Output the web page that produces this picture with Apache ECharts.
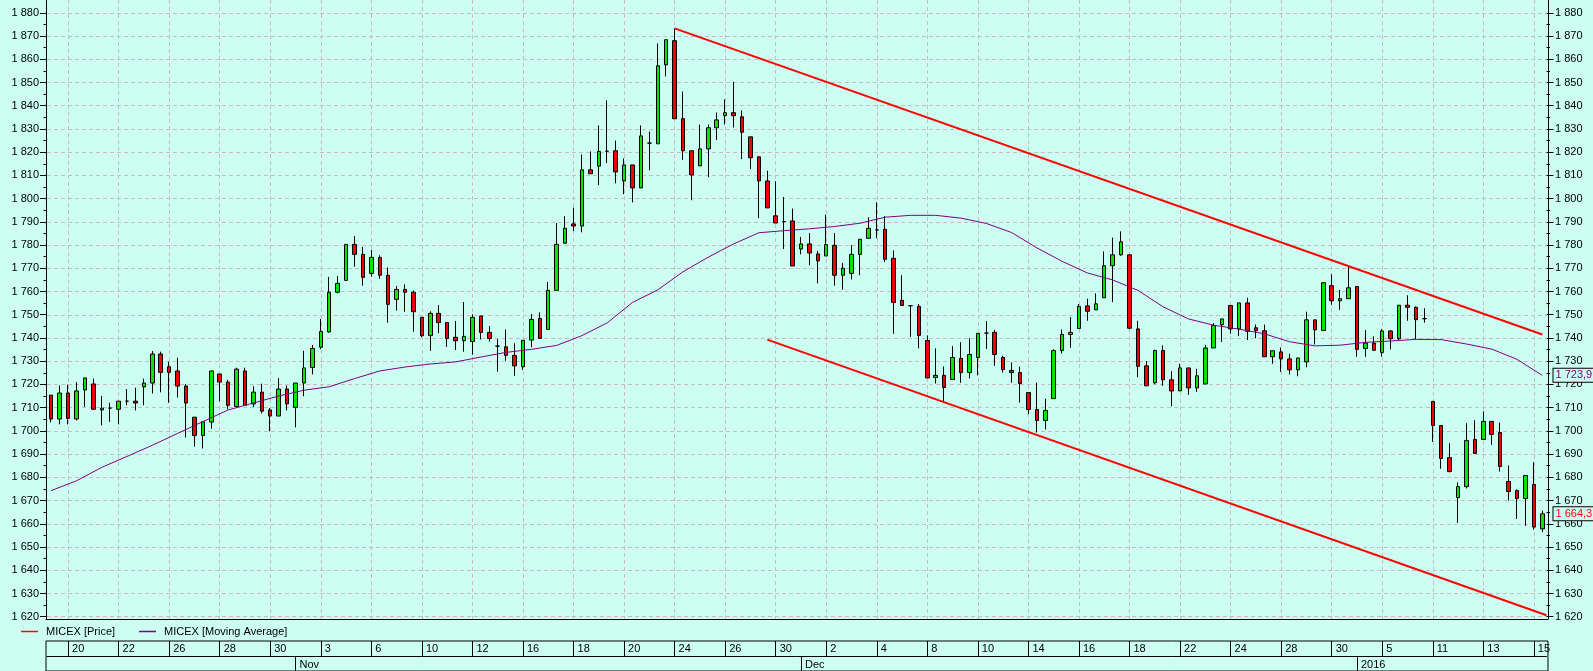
<!DOCTYPE html>
<html>
<head>
<meta charset="utf-8">
<script src="https://cdn.jsdelivr.net/npm/echarts@6/dist/echarts.min.js"></script>
<style>
html,body{margin:0;padding:0;background:#ccfff2;}
#chart{width:1593px;height:671px;}
</style>
</head>
<body>
<div id="chart"></div>
<script>
// ---------------- DATA ----------------
const tradingDays = [
  '2015-10-19','2015-10-20','2015-10-21','2015-10-22','2015-10-23','2015-10-26','2015-10-27','2015-10-28','2015-10-29','2015-10-30',
  '2015-11-02','2015-11-03','2015-11-05','2015-11-06','2015-11-09','2015-11-10','2015-11-11','2015-11-12','2015-11-13','2015-11-16',
  '2015-11-17','2015-11-18','2015-11-19','2015-11-20','2015-11-23','2015-11-24','2015-11-25','2015-11-26','2015-11-27','2015-11-30',
  '2015-12-01','2015-12-02','2015-12-03','2015-12-04','2015-12-07','2015-12-08','2015-12-09','2015-12-10','2015-12-11','2015-12-14',
  '2015-12-15','2015-12-16','2015-12-17','2015-12-18','2015-12-21','2015-12-22','2015-12-23','2015-12-24','2015-12-25','2015-12-28',
  '2015-12-29','2015-12-30','2016-01-04','2016-01-05','2016-01-06','2016-01-11','2016-01-12','2016-01-13','2016-01-14','2016-01-15'
];
const sessionNames = ['#1', '#2', '#3'];

// [open, close, low, high]
const priceCandles = [
  [1715.4,1705.1,1703.6,1715.4],[1705.1,1716.3,1702.8,1719.6],[1716.3,1705.4,1702.8,1719.9],[1705.1,1717.2,1704.5,1721.0],
  [1717.6,1722.8,1710.3,1722.8],[1720.2,1709.3,1709.3,1722.5],[1709.0,1709.8,1702.4,1715.1],[1709.8,1709.8,1703.9,1712.1],
  [1709.3,1712.8,1702.8,1712.8],[1712.8,1712.8,1711.0,1718.0],[1712.8,1712.0,1708.8,1718.6],[1718.9,1720.6,1711.0,1722.5],
  [1720.6,1733.1,1716.1,1734.4],[1733.1,1725.2,1716.6,1734.1],[1727.6,1725.2,1712.1,1729.8],[1725.8,1719.3,1714.4,1731.5],
  [1719.3,1712.0,1697.2,1720.2],[1705.9,1698.0,1693.2,1705.9],[1698.0,1703.9,1692.4,1703.9],[1703.8,1725.8,1700.9,1725.8],
  [1724.5,1721.0,1712.7,1724.5],[1721.0,1711.0,1709.3,1722.0],[1710.5,1726.6,1710.5,1727.2],[1725.8,1711.0,1711.0,1727.2],
  [1711.6,1716.7,1710.3,1719.2],[1716.7,1708.5,1707.5,1720.3],[1709.0,1706.4,1699.8,1709.8],[1706.4,1718.0,1706.4,1722.8],
  [1718.0,1711.6,1708.8,1719.5],[1710.1,1720.6,1701.5,1720.6],[1720.6,1727.1,1714.9,1734.5],[1727.3,1735.5,1724.3,1737.0],
  [1736.0,1742.8,1735.2,1748.2],[1742.6,1759.7,1742.3,1766.3],[1759.7,1763.5,1759.2,1766.7],[1764.8,1780.3,1764.8,1780.3],
  [1780.3,1776.0,1770.7,1783.9],[1776.0,1766.1,1762.5,1779.2],[1767.8,1774.7,1766.4,1777.9],[1774.7,1767.0,1765.5,1775.6],
  [1767.0,1754.5,1746.6,1770.4],[1756.6,1760.9,1751.8,1762.4],[1760.9,1759.7,1751.3,1763.1],[1759.7,1751.3,1742.7,1760.5],
  [1748.9,1741.0,1740.3,1748.9],[1741.0,1750.6,1734.4,1751.5],[1750.6,1746.6,1742.0,1754.2],[1746.7,1739.8,1736.2,1746.7],
  [1740.3,1738.8,1734.8,1747.3],[1738.8,1740.7,1734.1,1755.5],[1738.5,1748.9,1732.8,1750.2],[1749.5,1742.4,1739.3,1749.5],
  [1742.4,1739.8,1738.4,1745.1],[1736.5,1736.5,1725.5,1739.5],[1736.2,1732.5,1730.2,1743.7],[1732.5,1728.0,1723.7,1737.7],
  [1727.6,1739.0,1726.2,1739.0],[1739.1,1748.0,1736.0,1750.3],[1748.4,1739.8,1739.8,1751.0],[1743.7,1760.5,1743.7,1764.1],
  [1760.5,1780.3,1760.5,1789.5],[1780.8,1787.2,1780.8,1792.4],[1789.1,1788.2,1786.0,1796.1],[1788.2,1812.4,1785.5,1819.0],
  [1812.4,1810.7,1810.7,1820.3],[1814.0,1820.3,1805.8,1831.5],[1820.4,1820.4,1815.3,1842.3],[1820.6,1811.5,1806.6,1825.0],
  [1807.6,1814.5,1801.9,1817.3],[1814.5,1804.6,1798.4,1814.5],[1804.6,1827.0,1804.6,1831.5],[1823.9,1823.9,1812.2,1828.9],
  [1823.6,1857.2,1823.6,1866.8],[1857.6,1868.4,1852.6,1868.4],[1868.0,1834.4,1834.4,1873.3],[1834.4,1820.6,1816.6,1846.1],
  [1820.6,1810.2,1799.3,1820.6],[1814.1,1821.4,1814.1,1831.9],[1821.4,1830.5,1809.2,1831.9],[1830.5,1833.9,1825.2,1837.1],
  [1835.7,1837.0,1831.9,1842.7],[1837.0,1835.7,1830.6,1850.3],[1835.2,1828.6,1817.0,1838.0],[1826.6,1817.6,1812.7,1826.6],
  [1818.0,1807.6,1791.6,1818.0],[1807.6,1796.0,1796.0,1812.0],[1792.6,1789.5,1789.5,1807.5],[1790.1,1790.1,1778.3,1800.7],
  [1790.4,1771.0,1771.0,1795.7],[1778.3,1780.5,1776.0,1783.5],[1780.5,1776.6,1771.3,1785.2],[1776.2,1773.2,1763.5,1777.5],
  [1775.3,1780.2,1775.3,1793.1],[1779.9,1767.0,1762.5,1785.2],[1767.0,1770.0,1760.8,1772.3],[1767.8,1776.0,1765.2,1779.9],
  [1776.0,1782.5,1767.0,1782.5],[1782.9,1787.2,1782.9,1792.0],[1786.5,1786.5,1782.9,1798.4],[1786.8,1773.9,1772.7,1792.5],
  [1774.3,1755.3,1741.8,1777.7],[1756.2,1754.0,1754.0,1767.0],[1753.9,1753.9,1740.5,1754.2],[1753.6,1741.1,1735.5,1754.6],
  [1738.9,1722.8,1722.8,1741.1],[1723.0,1723.9,1720.4,1735.5],[1723.9,1718.7,1712.9,1727.7],[1722.1,1731.6,1722.1,1736.5],
  [1731.2,1725.1,1720.7,1738.2],[1725.1,1732.9,1722.6,1739.9],[1731.6,1742.0,1723.9,1742.0],[1742.1,1742.1,1735.3,1747.3],
  [1742.4,1732.9,1728.0,1743.5],[1731.6,1726.4,1725.1,1732.3],[1726.0,1725.1,1720.7,1729.5],[1725.1,1720.4,1712.2,1727.7],
  [1716.5,1709.2,1707.2,1716.5],[1709.2,1704.5,1699.3,1720.8],[1704.5,1708.8,1700.6,1713.9],[1713.9,1734.6,1713.9,1735.1],
  [1734.6,1741.5,1733.3,1743.7],[1741.5,1742.4,1735.8,1749.0],[1744.1,1753.6,1744.1,1754.6],[1753.8,1751.5,1747.4,1756.9],
  [1752.1,1754.7,1752.1,1759.2],[1757.3,1771.1,1757.3,1777.3],[1771.1,1775.8,1755.4,1783.2],[1775.8,1781.4,1775.4,1785.9],
  [1775.8,1744.2,1743.8,1775.8],[1743.9,1727.8,1723.1,1747.4],[1728.0,1719.4,1719.4,1730.0],[1720.7,1734.6,1720.1,1735.0],
  [1734.6,1722.0,1719.4,1736.8],[1722.0,1717.2,1710.6,1725.7],[1717.2,1727.1,1717.2,1728.9],[1727.1,1718.5,1715.5,1727.1],
  [1718.5,1723.7,1716.8,1726.7],[1720.2,1735.7,1720.2,1737.0],[1735.7,1745.4,1735.7,1746.4],[1745.7,1748.2,1738.3,1748.2],
  [1754.0,1743.9,1741.8,1754.0],[1743.9,1755.1,1740.8,1755.1],[1755.1,1742.9,1739.1,1757.3],[1744.4,1743.1,1739.9,1745.8],
  [1743.1,1731.9,1731.9,1745.8],[1731.9,1734.5,1728.9,1734.5],[1734.0,1731.0,1725.4,1735.9],[1731.0,1726.3,1724.3,1733.2],
  [1726.3,1731.4,1723.5,1731.4],[1729.7,1747.8,1727.4,1751.3],[1747.8,1743.5,1737.2,1747.8],[1743.2,1763.8,1743.2,1763.8],
  [1762.5,1756.0,1754.3,1767.4],[1756.0,1756.9,1752.1,1760.7],[1756.9,1761.6,1756.9,1771.1],[1762.2,1735.1,1731.9,1762.2],
  [1735.5,1737.8,1731.9,1743.4],[1737.8,1734.7,1734.7,1740.7],[1733.8,1743.0,1731.9,1743.9],[1743.0,1739.7,1735.1,1743.4],
  [1739.7,1754.1,1739.1,1754.1],[1754.1,1753.2,1747.4,1758.4],[1753.2,1747.9,1739.4,1753.6],[1748.3,1748.3,1746.6,1752.8],
  [1712.7,1702.3,1695.3,1712.7],[1702.3,1688.1,1683.7,1702.3],[1688.5,1682.5,1682.1,1694.7],[1671.3,1676.0,1660.4,1677.8],
  [1676.0,1695.9,1675.2,1703.3],[1696.3,1690.3,1690.3,1704.6],[1696.3,1704.1,1696.3,1708.4],[1704.1,1698.5,1694.0,1704.1],
  [1699.3,1684.7,1682.5,1703.6],[1678.2,1673.9,1670.0,1685.1],[1674.3,1670.9,1662.1,1674.8],[1670.9,1680.8,1659.1,1680.8],
  [1676.9,1658.6,1657.5,1686.5],[1657.8,1664.3,1656.4,1665.7]
];

// Moving average (candle index -> value)
const maIndex = [0,3,6,9,12,15,18,21,24,27,30,33,36,39,42,45,48,51,54,57,60,63,66,69,72,75,78,81,84,87,
                 90,93,96,99,102,105,108,111,114,117,120,123,126,129,132,135,138,141,144,147,150,153,156,159,162,165,168,171,174,177];
const maValues = [1674.3,1678.5,1684.3,1689.0,1693.8,1698.9,1704.0,1709.0,1712.0,1715.0,1717.5,1719.0,1722.5,1725.8,1727.5,
                  1728.8,1729.7,1731.8,1733.8,1735.1,1736.8,1741.0,1746.5,1755.3,1760.7,1768.5,1774.8,1780.5,1785.3,1786.2,
                  1787.0,1788.0,1789.4,1792.0,1792.8,1792.8,1791.6,1789.3,1785.4,1778.8,1773.0,1768.0,1765.0,1760.5,1753.4,
                  1748.2,1745.5,1743.8,1741.8,1738.4,1736.6,1736.9,1738.1,1738.7,1739.4,1739.3,1737.4,1735.2,1730.8,1723.9];

// Trend channel lines (candle index -> value)
const upperTrendX = [74, 177];
const upperTrendY = [1873.3, 1741.5];
const lowerTrendX = [85, 177.5];
const lowerTrendY = [1739.3, 1620.6];

// Tick labels
const dayTickLabels = ['20','22','26','28','30','3','6','10','12','16','18','20','24','26','30',
                       '2','4','8','10','14','16','18','22','24','28','30','5','11','13','15'];
const monthTickLabels = ['Nov','Dec','2016'];
const legendNames = ['MICEX [Price]', 'MICEX [Moving Average]'];

// ---------------- BUILD ----------------
const categories = [];
tradingDays.forEach(d => sessionNames.forEach(s => categories.push(d + ' ' + s)));
categories.splice(0, 1);
categories.length = priceCandles.length;

const dayTickIdx = dayTickLabels.map((_, k) => 2 + 6 * k);
const monthTickIdx = [];
for (let i = 1; i < categories.length; i++) {
  if (categories[i].slice(0, 7) !== categories[i - 1].slice(0, 7)) monthTickIdx.push(i);
}
const isDayTick = i => dayTickIdx.indexOf(i) >= 0;
const isMonthTick = i => monthTickIdx.indexOf(i) >= 0;

const FONT = "'Liberation Sans', Arial, sans-serif";
const BG = '#ccfff2';
const GRID_COLOR = '#c6bcc0';
const GREEN = '#00e600';
const RED = '#f00000';
const PURPLE = '#800080';

const fmtInt = v => String(Math.round(v)).replace(/\B(?=(\d{3})+(?!\d))/g, ' ');
const fmtDec = v => { const p = v.toFixed(1).split('.'); return fmtInt(+p[0]) + ',' + p[1]; };

const maData = maIndex.map((x, k) => [x, maValues[k]]);
const upperData = upperTrendX.map((x, k) => [x, upperTrendY[k]]);
const lowerData = lowerTrendX.map((x, k) => [x, lowerTrendY[k]]);

const lastClose = priceCandles[priceCandles.length - 1][1];
const lastMA = maValues[maValues.length - 1];

const tagLabel = (text, color) => ({
  show: true, position: 'end', distance: 7, formatter: text,
  color: color, fontFamily: FONT, fontSize: 11, lineHeight: 12,
  backgroundColor: BG, borderColor: '#000', borderWidth: 1, padding: [1, 2, 0, 2]
});

const hiddenY = gi => ({ gridIndex: gi, type: 'value', show: false, min: 0, max: 1, axisLine: { onZero: false } });

const option = {
  backgroundColor: BG,
  animation: false,
  textStyle: { fontFamily: FONT, fontSize: 11, color: '#000' },
  legend: {
    data: [
      { name: legendNames[0], icon: 'rect', itemStyle: { color: '#ff0000', borderWidth: 0 } },
      { name: legendNames[1], icon: 'rect', itemStyle: { color: PURPLE, borderWidth: 0 } }
    ],
    left: 21, top: 626, padding: 0,
    itemWidth: 17, itemHeight: 1.5, itemGap: 24,
    selectedMode: false,
    formatter: n => '{t|' + n + '}',
    textStyle: { fontFamily: FONT, fontSize: 11, color: '#000', rich: { t: { padding: [0, 0, 0, 3], fontFamily: FONT, fontSize: 11, color: '#000' } } }
  },
  grid: [
    { left: 47, right: 46.5, top: 12.8, height: 603.9, outerBoundsMode: 'none' },   // 0 data
    { left: 47, right: 46.5, top: 0, height: 619, outerBoundsMode: 'none' },        // 1 vertical grid lines
    { left: 46, right: 45, top: 0, height: 619, outerBoundsMode: 'none' },          // 2 frame
    { left: 46, right: 45, top: 641, height: 30, show: true, borderColor: '#000', borderWidth: 1, backgroundColor: 'transparent', outerBoundsMode: 'none' }, // 3 table
    { left: 47, right: 46.5, top: 641, height: 15, outerBoundsMode: 'none' },       // 4 days
    { left: 47, right: 46.5, top: 656, height: 15, outerBoundsMode: 'none' }        // 5 months
  ],
  xAxis: [
    { gridIndex: 0, type: 'category', data: categories, boundaryGap: true, show: false, axisLine: { onZero: false } },
    { gridIndex: 0, type: 'value', min: -0.5, max: 177.5, show: false, axisLine: { onZero: false } },
    { gridIndex: 1, type: 'category', data: categories, boundaryGap: true,
      axisLine: { show: false, onZero: false }, axisTick: { show: false }, axisLabel: { show: false },
      splitLine: { show: true, interval: (i) => isDayTick(i), alignWithLabel: true, lineStyle: { color: GRID_COLOR, type: [4, 3], width: 1 } } },
    { gridIndex: 2, type: 'value', min: 0, max: 1, position: 'bottom',
      axisLine: { show: true, onZero: false, lineStyle: { color: '#000', width: 1 } }, axisTick: { show: false }, axisLabel: { show: false }, splitLine: { show: false } },
    { gridIndex: 3, type: 'value', min: 0, max: 1, show: false, axisLine: { onZero: false } },
    { gridIndex: 4, type: 'category', data: categories, boundaryGap: true, position: 'top',
      axisLine: { show: false, onZero: false },
      axisTick: { show: true, inside: true, length: 15, alignWithLabel: true, interval: (i) => isDayTick(i), lineStyle: { color: '#000', width: 1 } },
      axisLabel: { show: true, inside: true, interval: (i) => isDayTick(i), margin: 8, align: 'left', verticalAlign: 'middle',
        formatter: (v, i) => '{d|' + dayTickLabels[dayTickIdx.indexOf(i)] + '}',
        rich: { d: { padding: [0, 0, 0, 4], fontFamily: FONT, fontSize: 11, color: '#000' } } },
      splitLine: { show: false } },
    { gridIndex: 5, type: 'category', data: categories, boundaryGap: true, position: 'top',
      axisLine: { show: true, onZero: false, lineStyle: { color: '#000', width: 1 } },
      axisTick: { show: true, inside: true, length: 15, alignWithLabel: true, interval: (i) => isMonthTick(i), lineStyle: { color: '#000', width: 1 } },
      axisLabel: { show: true, inside: true, interval: (i) => isMonthTick(i), margin: 8.5, align: 'left', verticalAlign: 'middle',
        formatter: (v, i) => '{m|' + monthTickLabels[monthTickIdx.indexOf(i)] + '}',
        rich: { m: { padding: [0, 0, 0, 4], fontFamily: FONT, fontSize: 11, color: '#000' } } },
      splitLine: { show: false } }
  ],
  yAxis: [
    { gridIndex: 0, type: 'value', min: 1620, max: 1880, interval: 10, position: 'left',
      axisLine: { show: false, onZero: false },
      axisTick: { show: true, length: 7, lineStyle: { color: '#000', width: 1 } },
      minorTick: { show: true, splitNumber: 2, length: 3.5, lineStyle: { color: '#000', width: 1 } },
      axisLabel: { formatter: fmtInt, margin: 8, color: '#000', fontFamily: FONT, fontSize: 11 },
      splitLine: { show: true, lineStyle: { color: GRID_COLOR, type: [4, 3], width: 1 } },
      minorSplitLine: { show: false } },
    { gridIndex: 0, type: 'value', min: 1620, max: 1880, interval: 10, position: 'right',
      axisLine: { show: false, onZero: false },
      axisTick: { show: true, length: 7, lineStyle: { color: '#000', width: 1 } },
      minorTick: { show: true, splitNumber: 2, length: 3.5, lineStyle: { color: '#000', width: 1 } },
      axisLabel: { formatter: fmtInt, margin: 8.5, color: '#000', fontFamily: FONT, fontSize: 11 },
      splitLine: { show: false } },
    hiddenY(1),
    { gridIndex: 2, type: 'value', min: 0, max: 1, position: 'left',
      axisLine: { show: true, onZero: false, lineStyle: { color: '#000', width: 1 } }, axisTick: { show: false }, axisLabel: { show: false }, splitLine: { show: false } },
    { gridIndex: 2, type: 'value', min: 0, max: 1, position: 'right',
      axisLine: { show: true, onZero: false, lineStyle: { color: '#000', width: 1 } }, axisTick: { show: false }, axisLabel: { show: false }, splitLine: { show: false } },
    hiddenY(3),
    hiddenY(4),
    hiddenY(5)
  ],
  series: [
    {
      name: legendNames[0], type: 'candlestick', xAxisIndex: 0, yAxisIndex: 0,
      data: priceCandles, barWidth: 4,
      itemStyle: { color: GREEN, color0: RED, borderColor: '#000', borderColor0: '#000', borderColorDoji: '#000', borderWidth: 1 },
      markLine: { silent: true, symbol: ['none', 'none'], animation: false,
        lineStyle: { color: 'rgba(0,0,0,0)', width: 1 },
        data: [{ yAxis: lastClose, label: tagLabel(fmtDec(lastClose), '#ff0000') }] }
    },
    {
      name: legendNames[1], type: 'line', xAxisIndex: 0, yAxisIndex: 0,
      data: maData, symbol: 'none', smooth: false,
      itemStyle: { color: PURPLE },
      lineStyle: { color: PURPLE, width: 1 },
      markLine: { silent: true, symbol: ['none', 'none'], animation: false,
        lineStyle: { color: 'rgba(0,0,0,0)', width: 1 },
        data: [{ yAxis: lastMA, label: tagLabel(fmtDec(lastMA), PURPLE) }] }
    },
    {
      name: 'upper', type: 'line', xAxisIndex: 1, yAxisIndex: 0,
      data: upperData, symbol: 'none', lineStyle: { color: '#ff0000', width: 2 }, itemStyle: { color: '#ff0000' }, z: 3
    },
    {
      name: 'lower', type: 'line', xAxisIndex: 1, yAxisIndex: 0,
      data: lowerData, symbol: 'none', lineStyle: { color: '#ff0000', width: 2 }, itemStyle: { color: '#ff0000' }, z: 3
    }
  ]
};

const chart = echarts.init(document.getElementById('chart'), null, { renderer: 'canvas' });
chart.setOption(option);
</script>
</body>
</html>
